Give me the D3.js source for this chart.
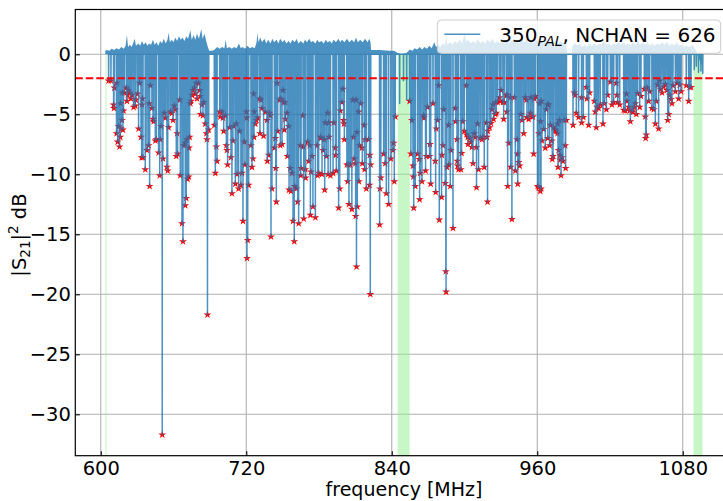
<!DOCTYPE html>
<html>
<head>
<meta charset="utf-8">
<script src="https://cdn.jsdelivr.net/npm/d3@7"></script>
<style>
  body { margin: 0; background: #fff; }
  svg { font-family: "DejaVu Sans", sans-serif; }
</style>
</head>
<body>
<div id="chart"></div>
<script>
// resonance dips found in the sweep: [frequency MHz, |S21|^2 dB]
var resonators = [
  [606.5,-2.2],[608.4,-2.2],[610.6,-4.2],[610.9,-4.5],[611.2,-2.8],[613.0,-6.6],[613.3,-2.4],[613.9,-7.3],
  [614.7,-6.0],[615.5,-7.7],[616.1,-6.9],[616.4,-4.1],[616.6,-6.2],[617.5,-5.5],[617.8,-3.2],[618.3,-6.3],
  [618.8,-4.7],[619.4,-3.2],[621.1,-2.8],[621.6,-3.9],[622.2,-3.4],[623.0,-3.0],[623.8,-3.2],[624.9,-3.7],
  [625.7,-3.4],[627.1,-4.4],[628.5,-4.3],[628.9,-3.8],[630.4,-3.3],[631.2,-6.2],[632.1,-2.4],[633.2,-6.9],
  [633.7,-8.6],[634.0,-4.2],[634.4,-3.7],[634.8,-8.6],[636.7,-9.6],[638.1,-8.0],[639.5,-7.6],[640.0,-4.1],
  [640.3,-11.0],[640.9,-2.6],[642.2,-4.5],[643.1,-5.4],[643.6,-5.6],[645.0,-7.2],[645.8,-7.1],[647.7,-8.2],
  [648.6,-10.1],[649.1,-7.1],[649.7,-6.0],[650.7,-31.7],[651.3,-8.7],[652.4,-4.9],[653.2,-5.3],[654.6,-9.4],
  [655.2,-9.7],[656.0,-6.1],[657.4,-4.8],[658.7,-4.9],[659.6,-5.5],[660.7,-4.3],[661.5,-4.6],[662.3,-8.5],
  [663.0,-6.6],[663.4,-8.3],[665.1,-3.8],[665.6,-10.1],[667.0,-14.1],[667.8,-15.6],[668.4,-7.6],[669.4,-7.4],
  [669.7,-12.6],[670.5,-12.0],[671.1,-7.1],[671.6,-10.4],[672.5,-10.2],[672.8,-7.8],[673.3,-6.9],[673.9,-4.1],
  [674.4,-3.9],[675.2,-3.4],[676.0,-3.0],[677.2,-2.8],[678.0,-3.3],[678.8,-2.4],[679.4,-3.7],[680.7,-2.4],
  [681.6,-3.0],[682.1,-3.5],[682.4,-5.0],[683.5,-4.2],[684.3,-5.1],[684.9,-4.0],[686.2,-5.8],[687.1,-6.6],
  [687.6,-7.1],[688.0,-21.7],[689.0,-6.3],[693.7,-5.9],[694.5,-9.9],[695.3,-7.7],[695.9,-8.9],[698.1,-4.8],
  [698.6,-5.2],[700.0,-4.8],[700.8,-5.3],[701.4,-6.4],[702.7,-5.1],[703.6,-7.6],[704.1,-8.0],[704.6,-9.2],
  [706.3,-6.1],[707.4,-8.6],[708.2,-11.6],[709.0,-7.2],[709.6,-6.0],[711.0,-10.8],[711.8,-5.8],[712.4,-10.0],
  [713.7,-11.2],[714.5,-6.4],[715.6,-10.9],[716.5,-9.9],[717.3,-13.9],[718.4,-7.3],[718.9,-9.2],[720.1,-4.8],
  [720.4,-5.3],[720.6,-17.0],[721.2,-15.5],[722.0,-10.9],[723.9,-7.6],[724.7,-9.4],[725.5,-8.7],[726.1,-3.3],
  [726.4,-6.9],[726.6,-4.8],[727.5,-5.8],[728.3,-5.5],[729.4,-5.3],[731.0,-3.7],[731.3,-6.6],[732.1,-3.8],
  [733.0,-4.5],[734.3,-6.8],[735.7,-4.8],[737.1,-5.5],[737.4,-8.9],[738.5,-8.4],[739.3,-4.9],[739.9,-5.1],
  [740.4,-15.2],[741.2,-11.2],[743.2,-7.8],[744.0,-7.0],[744.3,-9.5],[744.8,-12.3],[745.4,-2.4],[745.9,-6.4],
  [747.6,-3.8],[748.1,-7.6],[748.7,-3.7],[749.5,-7.5],[750.3,-3.0],[750.9,-4.0],[751.4,-6.3],[751.9,-4.0],
  [752.2,-5.4],[753.6,-4.9],[753.9,-8.5],[755.0,-6.0],[755.3,-11.3],[756.3,-9.5],[756.9,-11.4],[757.7,-9.9],
  [758.6,-13.9],[759.6,-15.6],[759.9,-11.0],[761.3,-11.2],[762.4,-12.3],[763.2,-14.1],[764.6,-7.6],[764.9,-10.1],
  [765.2,-9.5],[766.8,-5.1],[767.1,-7.7],[767.4,-13.7],[768.7,-9.6],[769.0,-10.3],[770.6,-7.3],[771.5,-8.9],
  [772.3,-7.6],[772.9,-13.4],[773.4,-9.8],[774.2,-8.5],[775.0,-12.7],[777.0,-13.6],[778.4,-7.6],[778.9,-10.1],
  [779.7,-9.9],[781.1,-6.9],[781.6,-7.0],[782.5,-10.0],[783.3,-8.0],[784.4,-7.1],[784.7,-11.3],[785.2,-5.7],
  [786.1,-8.5],[787.2,-4.9],[787.5,-10.0],[788.0,-5.7],[788.3,-6.9],[789.4,-10.1],[791.6,-9.9],[792.1,-5.7],
  [793.5,-7.8],[793.8,-8.4],[794.3,-9.7],[796.2,-12.8],[797.1,-11.2],[797.6,-4.7],[798.9,-4.0],[799.7,-2.9],
  [800.3,-5.5],[800.6,-5.8],[800.9,-7.1],[803.0,-9.2],[803.6,-10.6],[804.4,-9.2],[804.7,-12.5],[805.8,-9.2],
  [807.1,-12.9],[808.0,-3.8],[808.5,-6.9],[809.0,-8.7],[809.9,-9.1],[810.2,-13.5],[810.7,-3.8],[810.9,-17.7],
  [811.3,-6.5],[811.6,-12.7],[812.6,-4.8],[812.9,-10.6],[813.4,-7.6],[814.5,-4.1],[815.4,-7.8],[815.7,-9.1],
  [817.3,-5.9],[817.6,-9.6],[818.1,-7.1],[819.0,-11.2],[820.9,-7.1],[821.7,-10.9],[821.9,-8.4],[822.3,-20.0],
  [822.6,-9.2],[830.0,-14.2],[830.3,-11.2],[831.0,-10.3],[833.3,-8.3],[834.6,-9.1],[835.5,-11.6],[837.4,-12.5],
  [839.3,-8.7],[841.0,-8.0],[841.5,-7.4],[842.1,-10.6],[842.9,-5.2],[854.7,-3.9],[855.8,-8.3],[856.6,-5.5],
  [857.5,-9.3],[857.8,-10.2],[858.1,-12.8],[859.4,-11.0],[861.3,-8.3],[862.7,-8.75],[863.0,-12.1],[863.5,-9.9],
  [864.9,-10.6],[866.3,-5.1],[866.6,-5.3],[867.9,-9.7],[868.5,-8.5],[869.5,-4.4],[871.2,-8.5],[871.5,-7.5],
  [872.1,-10.8],[874.0,-4.1],[875.9,-8.9],[876.2,-11.5],[876.7,-6.2],[877.8,-5.5],[878.6,-2.6],[879.2,-13.8],
  [881.1,-11.9],[881.4,-8.4],[882.2,-7.6],[882.8,-4.6],[884.1,-10.75],[884.6,-18.1],[884.8,-19.8],[885.5,-9.4],
  [886.9,-5.9],[887.2,-9.2],[888.3,-11.0],[888.8,-8.0],[890.5,-14.5],[892.4,-4.5],[892.7,-5.6],[893.8,-7.1],
  [894.1,-8.9],[894.3,-9.3],[895.1,-9.6],[897.0,-9.6],[897.6,-8.25],[898.5,-5.6],[899.8,-6.4],[901.5,-2.6],
  [901.8,-6.7],[902.6,-6.9],[902.9,-7.5],[904.2,-7.0],[905.3,-7.3],[906.1,-7.75],[907.0,-9.1],[908.0,-6.6],
  [908.9,-6.9],[909.7,-7.75],[909.9,-11.1],[910.8,-5.8],[911.6,-9.6],[913.0,-7.0],[914.4,-7.1],[915.2,-6.9],
  [916.3,-9.4],[918.0,-5.7],[918.5,-6.9],[919.0,-12.3],[919.2,-6.4],[920.7,-6.1],[921.8,-5.75],[922.6,-4.6],
  [923.5,-4.2],[924.0,-5.4],[925.4,-5.0],[925.7,-4.0],[926.2,-4.9],[927.3,-4.0],[929.0,-3.6],[929.5,-3.9],
  [930.1,-3.0],[931.7,-4.0],[932.3,-5.4],[932.8,-4.0],[934.5,-3.4],[934.9,-4.8],[935.2,-3.4],[935.6,-11.0],
  [936.4,-7.4],[937.8,-3.6],[938.1,-9.4],[939.1,-13.75],[941.1,-3.6],[941.9,-9.7],[943.3,-7.1],[943.8,-8.3],
  [943.9,-10.8],[944.6,-9.0],[945.5,-9.3],[946.6,-5.0],[947.4,-5.5],[948.8,-6.6],[950.1,-3.6],[951.0,-3.8],
  [951.5,-5.25],[952.9,-5.4],[954.3,-4.9],[954.8,-3.6],[955.6,-5.2],[956.5,-5.2],[957.0,-8.3],[957.6,-3.7],
  [958.4,-3.5],[960.3,-11.0],[961.1,-11.1],[961.3,-6.6],[961.9,-4.1],[962.5,-11.4],[962.7,-5.6],[963.1,-11.2],
  [963.3,-3.9],[963.9,-7.2],[965.3,-6.25],[966.6,-7.8],[967.5,-4.6],[968.5,-4.2],[968.7,-7.0],[969.4,-4.2],
  [970.2,-7.6],[970.8,-5.9],[972.1,-7.2],[972.4,-8.75],[973.0,-8.5],[973.5,-6.1],[974.9,-6.3],[975.7,-6.4],
  [976.6,-6.6],[976.8,-5.8],[977.1,-9.4],[977.6,-8.0],[978.4,-5.5],[978.7,-8.4],[979.0,-8.8],[979.6,-10.1],
  [980.4,-8.6],[981.2,-8.9],[982.3,-5.5],[983.1,-7.6],[983.4,-9.5],[984.0,-5.5],[989.5,-5.9],[990.5,-3.2],
  [991.4,-3.4],[992.2,-4.9],[994.1,-5.25],[996.5,-3.6],[996.6,-5.7],[998.0,-5.25],[1000.5,-2.75],[1001.0,-3.7],
  [1002.4,-5.9],[1003.2,-3.2],[1007.1,-3.9],[1007.9,-4.8],[1008.7,-6.1],[1009.3,-4.4],[1010.6,-4.5],[1012.0,-4.2],
  [1014.2,-5.8],[1015.3,-4.1],[1017.0,-4.6],[1018.1,-3.4],[1020.3,-2.3],[1021.6,-4.2],[1023.0,-4.0],[1025.2,-2.4],
  [1025.8,-3.4],[1026.3,-4.0],[1028.0,-4.2],[1031.3,-4.65],[1032.6,-4.7],[1033.5,-3.3],[1034.0,-3.9],[1035.4,-4.4],
  [1036.2,-4.7],[1036.8,-5.6],[1038.1,-4.7],[1039.0,-4.8],[1040.0,-4.4],[1040.9,-4.1],[1041.7,-5.0],[1042.8,-3.25],
  [1044.5,-4.4],[1045.5,-3.5],[1048.3,-2.9],[1049.1,-5.2],[1049.4,-7.0],[1049.9,-6.7],[1050.5,-2.8],[1051.9,-3.9],
  [1052.7,-3.1],[1054.6,-4.5],[1056.0,-4.6],[1057.4,-5.8],[1058.2,-3.9],[1059.3,-2.55],[1060.1,-6.2],[1060.9,-2.2],
  [1061.5,-2.9],[1062.9,-3.2],[1064.3,-2.7],[1065.6,-2.5],[1067.0,-3.0],[1067.6,-5.5],[1068.4,-5.0],[1069.2,-3.4],
  [1070.3,-3.75],[1071.1,-4.1],[1071.9,-2.6],[1073.9,-3.1],[1075.3,-2.4],[1076.6,-3.7],[1077.5,-2.55],[1078.6,-3.1],
  [1082.9,-2.6],[1084.9,-3.9],[1085.7,-2.75],[1086.8,-2.75]
];

// shallow dips in the sweep with no resonator marker
var unmarkedDips = [[846.5,-4.1],[849.7,-2.2],[852.3,-3.8],[1089.5,-1.3],[1091.2,-1.0],[1093.0,-1.5],[1095.0,-1.4],[1096.5,-1.6]];

// upper edge of the baseline ripple: [frequency MHz, dB]
var noiseTop = [
  [603.7,0.3],[605,0.35],[607,0.3],[609,0.45],[611,0.35],[613,0.5],[615,0.4],[617,0.6],[619,0.45],[620.5,0.7],
  [621.6,1.6],[622.5,0.6],[624,0.8],[625.5,0.6],[627,1.0],[628,1.3],[629,0.7],[631,0.9],[632.5,0.7],[634,1.1],
  [635.5,0.8],[637,1.0],[638.5,0.7],[640,0.9],[641.5,0.8],[643,1.2],[644.5,0.8],[646,1.0],[647.5,0.7],[649,1.1],
  [650.5,0.9],[652,1.3],[653.5,0.9],[655,1.2],[656,1.8],[657,1.0],[658.5,1.2],[660,1.0],[661.5,1.4],[663,1.1],
  [664.5,1.5],[666,1.2],[667.5,1.4],[669,1.1],[670.5,1.5],[672,1.3],[673.9,2.0],[675,1.2],[676.6,1.6],[678,1.2],
  [679.4,1.7],[681,1.3],[682.9,2.1],[684,1.3],[685.5,1.7],[687,1.1],[688.3,0.6],[689.5,0.3],[692,0.3],[694,0.4],
  [696,0.6],[698,0.45],[700,0.6],[702,0.5],[703,1.2],[704,0.5],[706,0.6],[708,0.45],[710,0.6],[712,0.5],
  [714,0.9],[715.5,0.5],[717,0.6],[719,0.45],[721,0.7],[723,0.5],[725,0.6],[727,0.5],[728.5,1.0],[729.2,1.8],
  [730,1.0],[731.5,1.4],[733,1.0],[735,1.3],[736.5,0.9],[738,1.2],[740,0.9],[741.5,1.3],[743,1.0],[745,1.2],
  [746.5,0.9],[748,1.3],[750,1.0],[751.5,1.2],[753,0.9],[755,1.1],[756.5,0.9],[758,1.2],[760,1.0],[761.5,1.3],
  [763,0.9],[765,1.1],[767,0.9],[768.5,1.2],[770,1.0],[772,1.3],[773.5,1.0],[775,1.1],[777,0.9],[778.5,1.2],
  [780,1.0],[782,1.1],[784,0.9],[785.5,1.2],[787,1.0],[789,1.1],[790.5,0.9],[792,1.2],[794,1.0],[796,1.3],
  [797.5,1.0],[799,1.2],[801,1.0],[803,1.3],[805,1.0],[807,1.2],[809,1.0],[810.5,1.4],[812,1.0],[814,1.2],
  [816,1.0],[818,1.3],[820,1.0],[821.5,1.3],[822.5,1.0],[823,0.35],[830,0.35],[838,0.3],[842,0.3],[845,0.1],
  [848,0.0],[852,0.1],[855,0.4],[857,0.3],[859,0.5],[861,0.4],[863,0.6],[865,0.4],[867,0.6],[869,0.45],
  [871,0.7],[873,0.5],[875,1.0],[876.5,0.6],[878,0.8],[880,0.6],[882,0.9],[884,0.8],[885,1.4],[886,0.8],
  [888,1.0],[890,0.8],[892,1.1],[894,0.9],[896,1.2],[898,0.9],[900,1.7],[901.5,1.0],[903,1.2],[905,0.9],
  [907,1.1],[909,0.9],[911,1.3],[913,0.9],[915,1.1],[917,0.9],[919,1.2],[921,1.0],[923,1.3],[925,0.9],
  [927,1.1],[929,0.9],[931,1.3],[933,1.0],[935,1.2],[937,0.9],[939,1.2],[941,1.0],[943,1.1],[945,0.9],
  [947,1.3],[949,1.0],[951,1.2],[953,0.9],[955,1.1],[957,0.9],[959,1.2],[961,1.0],[963,1.1],[965,0.9],
  [967,1.2],[969,1.0],[971,1.1],[973,0.9],[975,1.1],[977,0.9],[979,1.1],[981,0.9],[983,1.0],[984,0.9],
  [984.5,0.1],[988.5,0.1],[989,0.7],[991,0.9],[993,0.7],[995,0.9],[997,0.6],[999,0.8],[1001,0.6],[1003,0.9],
  [1005,0.7],[1007,0.9],[1009,0.7],[1011,0.9],[1013,0.8],[1015,1.1],[1017,0.8],[1019,0.9],[1021,0.7],[1023,0.9],
  [1025,0.8],[1027,1.0],[1029,0.8],[1031,1.0],[1033,0.8],[1035,0.9],[1037,0.7],[1039,1.0],[1041,0.8],[1043,1.1],
  [1045,0.8],[1047,1.0],[1049,0.8],[1051,1.0],[1053,0.7],[1055,0.9],[1057,0.7],[1059,0.9],[1061,0.8],[1063,1.0],
  [1065,0.8],[1067,1.0],[1069,0.7],[1071,0.9],[1073,0.7],[1075,1.0],[1077,0.7],[1079,0.8],[1081,0.6],[1083,0.7],
  [1085,0.6],[1087,0.7],[1089,0.7],[1091,0.3],[1093,-0.3],[1095,-0.8],[1096.7,-1.2]
];

// excluded frequency ranges (green shading, drawn below 0 dB)
var greenBands = [[603.9,604.8],[844.9,854.8],[1088.9,1096.3]];

var xTicks = [600, 720, 840, 960, 1080];
var yTicks = [0, -5, -10, -15, -20, -25, -30];
var threshold = -2;
var nchan = 626;

// layout
var margin = {top: 9.5, left: 75.3},
    width = 656.2,
    height = 446.2;

var svg = d3.select("#chart")
  .append("svg")
    .attr("width", 723)
    .attr("height", 501)
  .append("g")
    .attr("transform", "translate(" + margin.left + "," + margin.top + ")");

var x = d3.scaleLinear().domain([579, 1120.2]).range([0, width]);
var y = d3.scaleLinear().domain([-33.45, 3.73]).range([height, 0]);

// grid
svg.append("g").selectAll("line.vgrid")
  .data(xTicks).enter().append("line")
    .attr("x1", function(d){ return x(d) }).attr("x2", function(d){ return x(d) })
    .attr("y1", 0).attr("y2", height)
    .style("stroke", "#b0b0b0").style("stroke-width", 1.1)
svg.append("g").selectAll("line.hgrid")
  .data(yTicks).enter().append("line")
    .attr("y1", function(d){ return y(d) }).attr("y2", function(d){ return y(d) })
    .attr("x1", 0).attr("x2", width)
    .style("stroke", "#b0b0b0").style("stroke-width", 1.1)

// green bands
svg.selectAll("rect.band")
  .data(greenBands).enter().append("rect")
    .attr("x", function(d){ return x(d[0]) })
    .attr("width", function(d){ return x(d[1]) - x(d[0]) })
    .attr("y", y(0)).attr("height", height - y(0))
    .style("fill", "#90ee90").style("opacity", 0.5)

// resonator markers (drawn under the sweep)
var star = d3.symbol().type(d3.symbolStar).size(19)
svg.selectAll("path.res")
  .data(resonators).enter().append("path")
    .attr("d", star)
    .attr("transform", function(d){ return "translate(" + x(d[0]) + "," + y(d[1]) + ")" })
    .style("fill", "red")

// sweep: baseline ripple + dips
var dipPts = []
resonators.concat(unmarkedDips).forEach(function(d) {
  dipPts.push([d[0] - 0.12, 0], [d[0], d[1]], [d[0] + 0.12, 0])
})
dipPts.sort(function(a, b){ return a[0] - b[0] })

var sweep = svg.append("g").style("opacity", 0.8)
sweep.append("path")
  .datum(noiseTop)
  .attr("d", d3.area()
    .x(function(d){ return x(d[0]) })
    .y0(y(0))
    .y1(function(d){ return y(d[1]) }))
  .style("fill", "#1f77b4")
sweep.append("path")
  .datum(dipPts)
  .attr("d", d3.line()
    .x(function(d){ return x(d[0]) })
    .y(function(d){ return y(d[1]) }))
  .style("fill", "none")
  .style("stroke", "#1f77b4")
  .style("stroke-width", 1.5)
  .style("stroke-linejoin", "round")

// threshold
svg.append("line")
  .attr("x1", 0).attr("x2", width)
  .attr("y1", y(threshold)).attr("y2", y(threshold))
  .style("stroke", "red").style("stroke-width", 2)
  .style("stroke-dasharray", "7.5,3")

// axes, ticks pointing inwards
svg.append("g")
  .attr("transform", "translate(0," + height + ")")
  .call(d3.axisBottom(x).tickValues(xTicks).tickFormat(d3.format("d"))
    .tickSizeInner(-4.5).tickSizeOuter(0).tickPadding(5.5))
svg.append("g")
  .call(d3.axisLeft(y).tickValues(yTicks).tickFormat(d3.format("d"))
    .tickSizeInner(-4.5).tickSizeOuter(0).tickPadding(4.5))
svg.selectAll(".tick text").style("font-size", "19.5px").style("font-family", "DejaVu Sans").style("fill", "#000")
svg.selectAll(".tick line").style("stroke", "#000").style("stroke-width", 1.1)
svg.selectAll(".domain").remove()

// frame
svg.append("rect")
  .attr("width", width).attr("height", height)
  .style("fill", "none").style("stroke", "#000").style("stroke-width", 1.2)

// axis labels
svg.append("text")
  .attr("x", 404 - margin.left).attr("y", 496 - margin.top)
  .style("text-anchor", "middle").style("font-size", "19px")
  .text("frequency [MHz]")

var ylab = svg.append("text")
  .attr("transform", "translate(" + (26 - margin.left) + "," + (235 - margin.top) + ") rotate(-90)")
  .style("text-anchor", "middle").style("font-size", "19.5px")
ylab.append("tspan").text("|S")
ylab.append("tspan").text("21").style("font-size", "13.5px").attr("dy", 4)
ylab.append("tspan").text("|").attr("dy", -4)
ylab.append("tspan").text("2").style("font-size", "13.5px").attr("dy", -8)
ylab.append("tspan").text(" dB").attr("dy", 8)

// legend
var lg = svg.append("g").attr("transform", "translate(" + (437.3 - margin.left) + "," + (20 - margin.top) + ")")
lg.append("rect")
  .attr("width", 283.4).attr("height", 33.3).attr("rx", 4)
  .style("fill", "white").style("fill-opacity", 0.8)
  .style("stroke", "#cccccc").style("stroke-width", 1)
lg.append("line")
  .attr("x1", 7).attr("x2", 43).attr("y1", 14.3).attr("y2", 14.3)
  .style("stroke", "#1f77b4").style("stroke-width", 1.5).style("opacity", 0.8)
var lt = lg.append("text").attr("x", 62).attr("y", 21.7).style("font-size", "20px")
lt.append("tspan").text("350")
lt.append("tspan").text("PAL").style("font-size", "14px").style("font-style", "italic").attr("dy", 4)
lt.append("tspan").text(", NCHAN = " + nchan).attr("dy", -4)
</script>
</body>
</html>
